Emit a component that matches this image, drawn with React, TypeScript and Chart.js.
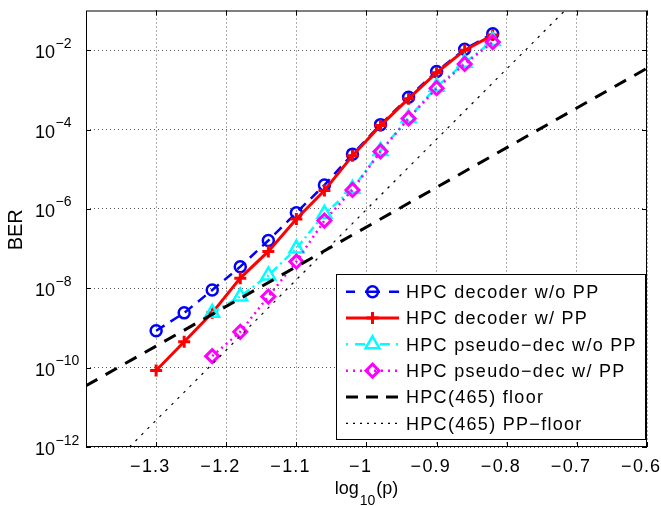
import React, { useEffect, useRef } from 'react';
import { Chart, registerables } from 'chart.js';

Chart.register(...registerables);

// ---------------- data ----------------
const xAll = [-1.3, -1.26, -1.22, -1.18, -1.14, -1.1, -1.06, -1.02, -0.98, -0.94, -0.9, -0.86, -0.82];
const xPseudo = [-1.22, -1.18, -1.14, -1.1, -1.06, -1.02, -0.98, -0.94, -0.9, -0.86, -0.82];

const berDecoderNoPP = [8.5e-10, 2.4e-9, 9e-9, 3.5e-8, 1.6e-7, 8e-7, 4e-6, 2.4e-5, 1.33e-4, 6.5e-4, 2.9e-3, 1.06e-2, 2.6e-2];
const berDecoderPP = [8.5e-11, 4.5e-10, 2.4e-9, 1.8e-8, 8.5e-8, 5.6e-7, 2.9e-6, 2.2e-5, 1.26e-4, 6e-4, 2.7e-3, 1e-2, 2.4e-2];
const berPseudoNoPP = [2.4e-9, 6.2e-9, 2.1e-8, 1e-7, 7.5e-7, 3.2e-6, 2.9e-5, 1.95e-4, 1.2e-3, 4.8e-3, 1.7e-2];
const berPseudoPP = [1.95e-10, 8e-10, 6.2e-9, 4.7e-8, 5.1e-7, 3e-6, 2.8e-5, 1.9e-4, 1.1e-3, 4.5e-3, 1.6e-2];

const xFloor = [-1.4, -0.6];
const berFloor = [3.5e-11, 3.5e-3];
const xPPFloor = [-1.338, -0.717];
const berPPFloor = [1e-12, 1e-1];

const seriesLabels = [
  'HPC decoder w/o PP',
  'HPC decoder w/ PP',
  'HPC pseudo\u2212dec w/o PP',
  'HPC pseudo\u2212dec w/ PP',
  'HPC(465) floor',
  'HPC(465) PP\u2212floor',
];

const xTickValues = [-1.3, -1.2, -1.1, -1.0, -0.9, -0.8, -0.7, -0.6];
const xTickLabels = ['\u22121.3', '\u22121.2', '\u22121.1', '\u22121', '\u22120.9', '\u22120.8', '\u22120.7', '\u22120.6'];
const yTickExponents = [-12, -10, -8, -6, -4, -2];
const yTitle = 'BER';
const xTitleParts = ['log', '10', '(p)'];

// ---------------- styles ----------------
const FONT = '"Liberation Sans", Arial, Helvetica, sans-serif';
const BLUE = '#0000ff';
const RED = '#ff0000';
const CYAN = '#00ffff';
const MAGENTA = '#ff00ff';
const BLACK = '#000000';

const legendStyles = [
  { color: BLUE, width: 2.5, dash: [9, 10, 15, 9, 10], marker: 'circle', mr: 5.5, mw: 2.5 },
  { color: RED, width: 3, dash: [], marker: 'cross', mr: 6, mw: 3 },
  { color: CYAN, width: 2.5, dash: [2, 7, 10, 15, 10, 6, 2], marker: 'triangle', mr: 8, mw: 2.5 },
  { color: MAGENTA, width: 2.5, dash: [2, 5], marker: 'diamond', mr: 6.5, mw: 3 },
  { color: BLACK, width: 3, dash: [12, 8], marker: null, mr: 0, mw: 0 },
  { color: BLACK, width: 1.2, dash: [2, 5], marker: null, mr: 0, mw: 0 },
];

function drawMarker(ctx: CanvasRenderingContext2D, kind: string, x: number, y: number, r: number) {
  ctx.beginPath();
  if (kind === 'circle') {
    ctx.arc(x, y, r, 0, Math.PI * 2);
  } else if (kind === 'cross') {
    ctx.moveTo(x - r, y); ctx.lineTo(x + r, y);
    ctx.moveTo(x, y - r); ctx.lineTo(x, y + r);
  } else if (kind === 'triangle') {
    ctx.moveTo(x, y - r);
    ctx.lineTo(x + 0.866 * r, y + 0.5 * r);
    ctx.lineTo(x - 0.866 * r, y + 0.5 * r);
    ctx.closePath();
  } else if (kind === 'diamond') {
    ctx.moveTo(x, y - r); ctx.lineTo(x + r, y); ctx.lineTo(x, y + r); ctx.lineTo(x - r, y);
    ctx.closePath();
  }
  ctx.stroke();
}

const decorPlugin = {
  id: 'decor',
  afterDraw(chart: any) {
    const ctx: CanvasRenderingContext2D = chart.ctx;
    const a = chart.chartArea;
    const xs = chart.scales.x;
    const ys = chart.scales.y;
    const anyCtx = ctx as any;
    ctx.save();
    ctx.setLineDash([]);

    // frame
    ctx.strokeStyle = BLACK;
    ctx.lineWidth = 1;
    ctx.strokeRect(a.left + 0.5, a.top + 0.5, a.right - a.left - 1, a.bottom - a.top - 1);

    // inward tick marks
    ctx.beginPath();
    xTickValues.forEach((v) => {
      const px = Math.round(xs.getPixelForValue(v)) + 0.5;
      ctx.moveTo(px, a.bottom); ctx.lineTo(px, a.bottom - 5);
      ctx.moveTo(px, a.top); ctx.lineTo(px, a.top + 5);
    });
    yTickExponents.forEach((e) => {
      const py = Math.round(ys.getPixelForValue(Number('1e' + e))) + 0.5;
      ctx.moveTo(a.left, py); ctx.lineTo(a.left + 5, py);
      ctx.moveTo(a.right, py); ctx.lineTo(a.right - 5, py);
    });
    ctx.stroke();

    ctx.fillStyle = BLACK;
    ctx.textBaseline = 'alphabetic';

    // x tick labels
    ctx.font = '18px ' + FONT;
    if ('letterSpacing' in anyCtx) anyCtx.letterSpacing = '1px';
    xTickValues.forEach((v, i) => {
      const px = xs.getPixelForValue(v);
      const lab = xTickLabels[i];
      const digits = lab.replace('\u2212', '');
      const wd = ctx.measureText(digits).width;
      const start = px - wd / 2;
      ctx.textAlign = 'left';
      ctx.fillText(digits, start, a.bottom + 24.5);
      ctx.textAlign = 'right';
      ctx.fillText('\u2212', start - 0.5, a.bottom + 24.5);
    });
    if ('letterSpacing' in anyCtx) anyCtx.letterSpacing = '0px';

    // y tick labels (10^e)
    yTickExponents.forEach((e) => {
      const py = ys.getPixelForValue(Number('1e' + e));
      ctx.textAlign = 'left';
      ctx.font = '18px ' + FONT;
      ctx.fillText('10', 35, py + 8);
      const w10 = ctx.measureText('10').width;
      ctx.font = '14px ' + FONT;
      ctx.fillText('\u2212' + String(Math.abs(e)), 35 + w10 + 0.5, py - 2.5);
    });

    // x title
    ctx.textAlign = 'left';
    ctx.font = '18px ' + FONT;
    const w1 = ctx.measureText(xTitleParts[0]).width;
    const w3 = ctx.measureText(xTitleParts[2]).width;
    ctx.font = '14px ' + FONT;
    const w2 = ctx.measureText(xTitleParts[1]).width;
    const total = w1 + w2 + w3 + 2;
    const cx = (a.left + a.right) / 2;
    let tx = cx - total / 2;
    ctx.font = '18px ' + FONT;
    ctx.fillText(xTitleParts[0], tx, a.bottom + 46.5);
    tx += w1 + 1;
    ctx.font = '14px ' + FONT;
    ctx.fillText(xTitleParts[1], tx, a.bottom + 57.5);
    tx += w2 + 1;
    ctx.font = '18px ' + FONT;
    ctx.fillText(xTitleParts[2], tx, a.bottom + 46.5);

    // y title
    ctx.save();
    ctx.translate(21.5, (a.top + a.bottom) / 2 + 1);
    ctx.rotate(-Math.PI / 2);
    ctx.textAlign = 'center';
    ctx.font = '20px ' + FONT;
    ctx.fillText(yTitle, 0, 0);
    ctx.restore();

    // legend
    const L = { left: 336, top: 274, right: a.right - 1, bottom: a.bottom - 7 };
    ctx.fillStyle = '#ffffff';
    ctx.fillRect(L.left, L.top, L.right - L.left, L.bottom - L.top);
    ctx.strokeStyle = BLACK;
    ctx.lineWidth = 1;
    ctx.setLineDash([]);
    ctx.strokeRect(L.left + 0.5, L.top + 0.5, L.right - L.left - 1, L.bottom - L.top - 1);
    const rowH = (L.bottom - L.top - 34.4) / (seriesLabels.length - 1);
    seriesLabels.forEach((lab, i) => {
      const st = legendStyles[i];
      const y = L.top + 17.7 + i * rowH;
      const x0 = L.left + 10;
      const x1 = L.left + 63;
      ctx.strokeStyle = st.color;
      ctx.lineWidth = st.width;
      ctx.setLineDash(st.dash);
      ctx.beginPath();
      ctx.moveTo(x0, y);
      ctx.lineTo(x1, y);
      ctx.stroke();
      ctx.setLineDash([]);
      if (st.marker) {
        ctx.lineWidth = st.mw;
        drawMarker(ctx, st.marker, (x0 + x1) / 2, y, st.mr);
      }
      ctx.fillStyle = BLACK;
      ctx.font = '18px ' + FONT;
      ctx.textAlign = 'left';
      if ('letterSpacing' in anyCtx) anyCtx.letterSpacing = '1.3px';
      ctx.fillText(lab, L.left + 70, y + 6.3);
      if ('letterSpacing' in anyCtx) anyCtx.letterSpacing = '0px';
    });

    ctx.restore();
  },
};

const pts = (xs: number[], ys: number[]) => xs.map((x, i) => ({ x, y: ys[i] }));

export default function App() {
  const ref = useRef<HTMLCanvasElement | null>(null);

  useEffect(() => {
    const canvas = ref.current;
    if (!canvas) return;
    const gridColor = '#5a5a5a';
    const chart = new Chart(canvas, {
      type: 'line',
      data: {
        datasets: [
          {
            label: seriesLabels[0],
            data: pts(xAll, berDecoderNoPP),
            borderColor: BLUE,
            borderWidth: 2.5,
            borderDash: [10, 7],
            pointStyle: 'circle',
            pointRadius: 5.5,
            pointBorderWidth: 2.5,
            pointBorderColor: BLUE,
            pointBackgroundColor: 'rgba(0,0,0,0)',
            order: 5,
          },
          {
            label: seriesLabels[1],
            data: pts(xAll, berDecoderPP),
            borderColor: RED,
            borderWidth: 3,
            pointStyle: 'cross',
            pointRadius: 6,
            pointBorderWidth: 3,
            pointBorderColor: RED,
            pointBackgroundColor: 'rgba(0,0,0,0)',
            order: 4,
          },
          {
            label: seriesLabels[2],
            data: pts(xPseudo, berPseudoNoPP),
            borderColor: CYAN,
            borderWidth: 2.5,
            borderDash: [8, 4, 2, 4],
            pointStyle: 'triangle',
            pointRadius: 8,
            pointBorderWidth: 2.5,
            pointBorderColor: CYAN,
            pointBackgroundColor: 'rgba(0,0,0,0)',
            order: 3,
          },
          {
            label: seriesLabels[3],
            data: pts(xPseudo, berPseudoPP),
            borderColor: MAGENTA,
            borderWidth: 2.5,
            borderDash: [2, 4],
            pointStyle: 'rectRot',
            pointRadius: 6.5,
            pointBorderWidth: 3,
            pointBorderColor: MAGENTA,
            pointBackgroundColor: 'rgba(0,0,0,0)',
            order: 2,
          },
          {
            label: seriesLabels[4],
            data: pts(xFloor, berFloor),
            borderColor: BLACK,
            borderWidth: 3,
            borderDash: [13, 9.5],
            pointRadius: 0,
            order: 1,
          },
          {
            label: seriesLabels[5],
            data: pts(xPPFloor, berPPFloor),
            borderColor: BLACK,
            borderWidth: 1.2,
            borderDash: [2.5, 6],
            pointRadius: 0,
            order: 0,
          },
        ],
      },
      options: {
        responsive: false,
        animation: false,
        devicePixelRatio: 1,
        events: [],
        layout: { padding: { left: 86, top: 6, right: 14, bottom: 59 } },
        plugins: { legend: { display: false }, tooltip: { enabled: false }, title: { display: false } },
        scales: {
          x: {
            type: 'linear',
            min: -1.4,
            max: -0.6,
            afterBuildTicks: (s: any) => {
              s.ticks = xTickValues.map((v) => ({ value: v }));
            },
            ticks: { display: false },
            grid: { color: gridColor, lineWidth: 1, drawTicks: false },
            border: { display: false, dash: [1, 3] },
          },
          y: {
            type: 'logarithmic',
            min: 1e-12,
            max: 1e-1,
            afterBuildTicks: (s: any) => {
              s.ticks = yTickExponents.map((e) => ({ value: Number('1e' + e) }));
            },
            ticks: { display: false },
            grid: { color: gridColor, lineWidth: 1, drawTicks: false },
            border: { display: false, dash: [1, 3] },
          },
        },
      } as any,
      plugins: [decorPlugin as any],
    });
    return () => chart.destroy();
  }, []);

  return (
    <div style={{ position: 'fixed', left: 0, top: 0, width: 661, height: 506, background: '#ffffff' }}>
      <canvas ref={ref} width={661} height={506} style={{ display: 'block', width: 661, height: 506 }} />
    </div>
  );
}
